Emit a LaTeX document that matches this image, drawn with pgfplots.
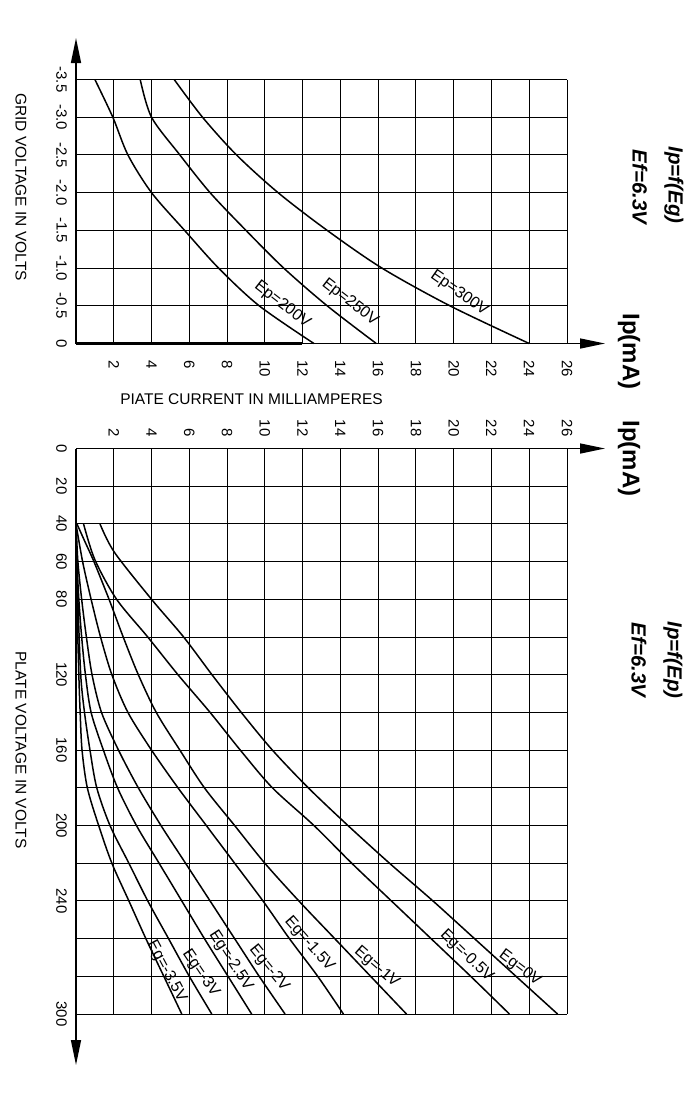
\documentclass[border=0pt]{standalone}
\usepackage{fontspec}
\setmainfont{Liberation Sans}
\usepackage{pgfplots}
\pgfplotsset{compat=1.18}
\usetikzlibrary{arrows.meta}
\begin{document}
\begin{tikzpicture}
\path[use as bounding box] (0,0) rectangle (350pt,-550pt);
\pgfplotsset{
  every axis/.append style={
    scale only axis, clip=false,
    axis line style={draw=none}, tick style={draw=none},
    major grid style={black, line width=0.5pt},
    minor grid style={black, line width=0.5pt},
    xmin=0, xmax=26,
    xtick={2,4,...,26},
    xticklabels={2,4,6,8,10,12,14,16,18,20,22,24,26},
  },
  curve/.style={black, line width=0.75pt, smooth, no marks},
}
% ---------------- Ip = f(Eg) ----------------
\begin{axis}[
  width=245.5pt, height=132pt,
  at={(38pt,-171.75pt)}, anchor=south west,
  ymin=-3.5, ymax=0, y dir=reverse,
  ytick={-3.5,-3,...,0},
  yticklabels={-3.5,-3.0,-2.5,-2.0,-1.5,-1.0,-0.5,0},
  grid=major,
  xticklabel pos=left,
  xticklabel style={rotate=-90, anchor=west, font=\fontsize{7.5}{8}\selectfont},
  xticklabel shift=4.8pt,
  yticklabel style={rotate=-90, anchor=north, font=\fontsize{7.5}{8}\selectfont},
  yticklabel shift=1.0pt,
]
\addplot[curve] coordinates {(1.0,-3.5) (1.95,-3.0) (2.75,-2.5) (4.0,-2.0) (5.75,-1.5) (7.55,-1.0) (9.7,-0.5) (12.6,0)};
\addplot[curve] coordinates {(3.4,-3.5) (4.0,-3.0) (5.5,-2.5) (7.1,-2.0) (9.0,-1.5) (11.0,-1.0) (13.3,-0.5) (15.9,0)};
\addplot[curve] coordinates {(5.2,-3.5) (6.7,-3.0) (8.5,-2.5) (10.7,-2.0) (13.3,-1.5) (16.2,-1.0) (19.8,-0.5) (24.0,0)};
\end{axis}
% ---------------- Ip = f(Ep) ----------------
\begin{axis}[
  width=245.5pt, height=282.75pt,
  at={(38pt,-224.25pt)}, anchor=north west,
  ymin=0, ymax=300, y dir=reverse,
  ytick={0,20,40,60,80,120,160,200,240,300},
  yticklabels={0,20,40,60,80,120,160,200,240,300},
  minor ytick={100,140,180,220,260,280},
  grid=both,
  xticklabel pos=right,
  xticklabel style={rotate=-90, anchor=east, font=\fontsize{7.5}{8}\selectfont},
  xticklabel shift=2.5pt,
  yticklabel style={rotate=-90, anchor=north, font=\fontsize{7.5}{8}\selectfont},
  yticklabel shift=1.0pt,
]
% Eg = 0 V
\addplot[curve] coordinates {(1.27,40) (2.03,55) (4.0,80) (5.7,100) (7.2,120) (8.75,140) (10.4,160) (12.3,180) (14.4,200) (16.6,220) (18.9,240) (21.1,260) (23.3,280) (25.5,300)};
% Eg = -0.5 V
\addplot[curve] coordinates {(0.4,40) (1.0,59) (2.15,80) (3.8,100) (5.4,120) (7.1,140) (8.7,160) (10.4,180) (12.6,200) (14.6,220) (16.7,240) (18.8,260) (20.9,280) (22.95,300)};
% Eg = -1 V
\addplot[curve] coordinates {(0.05,40) (0.5,50) (0.95,60) (1.75,80) (2.5,100) (3.3,120) (4.25,140) (5.5,160) (6.8,180) (8.4,200) (10.0,220) (11.8,240) (13.7,260) (15.6,280) (17.5,300)};
% Eg = -1.5 V
\addplot[curve] coordinates {(0,40) (0.35,60) (0.8,80) (1.3,100) (1.9,120) (2.75,140) (4.0,160) (5.4,180) (6.9,200) (8.4,220) (9.9,240) (11.3,260) (12.8,280) (14.16,300)};
% Eg = -2 V
\addplot[curve] coordinates {(0,40) (0.1,60) (0.3,80) (0.55,100) (0.85,120) (1.35,140) (2.25,160) (3.3,180) (4.5,200) (5.8,220) (7.1,240) (8.4,260) (9.7,280) (11.07,300)};
% Eg = -2.5 V
\addplot[curve] coordinates {(0,40) (0.05,60) (0.15,80) (0.3,100) (0.5,120) (0.8,140) (1.45,160) (2.2,180) (3.2,200) (4.4,220) (5.6,240) (6.8,260) (8.05,280) (9.3,300)};
% Eg = -3 V
\addplot[curve] coordinates {(0,40) (0.1,80) (0.25,120) (0.45,140) (0.74,160) (1.1,180) (1.8,200) (2.8,220) (3.8,240) (4.9,260) (6.0,280) (7.19,300)};
% Eg = -3.5 V
\addplot[curve] coordinates {(0,40) (0.05,80) (0.15,120) (0.22,140) (0.32,160) (0.6,180) (1.2,200) (1.9,220) (2.8,240) (3.7,260) (4.65,280) (5.6,300)};
\end{axis}
% ---------------- axes, arrows and text (pixel frame) ----------------
\begin{scope}[x=0.5pt, y=-0.5pt]
\tikzset{arr/.style={line width=0.75pt, -{Triangle[length=12.5pt, width=5pt]}}}
\draw[arr] (76,343.5) -- (76,38);
\draw[arr] (76,343.5) -- (605,343.5);
\draw[line width=1.3pt] (76,343.5) -- (302,343.5);
\draw[arr] (76,448.5) -- (605,448.5);
\draw[arr] (76,448.5) -- (76,1065);
\tikzset{lab/.style={font=\fontsize{7.75}{9}\selectfont, inner sep=0pt}}
\node[lab, rotate=-90] at (21,187) {GRID VOLTAGE IN VOLTS};
\node[lab, rotate=-90] at (21,750) {PLATE VOLTAGE IN VOLTS};
\node[lab] at (251.5,399) {PIATE CURRENT IN MILLIAMPERES};
\tikzset{ipl/.style={font=\fontsize{12}{14}\selectfont\bfseries, inner sep=0pt, rotate=-90}}
\node[ipl] at (629,351.5) {Ip(mA)};
\node[ipl] at (629,458.5) {Ip(mA)};
\tikzset{ttl/.style={font=\fontsize{10.25}{12}\selectfont\bfseries\itshape, inner sep=0pt, rotate=-90}}
\node[ttl] at (674,185) {Ip=f(Eg)};
\node[ttl] at (640,187) {Ef=6.3V};
\node[ttl] at (673,660) {Ip=f(Ep)};
\node[ttl] at (639,660) {Ef=6.3V};
\tikzset{cl/.style={font=\fontsize{8}{9}\selectfont, inner sep=0pt}}
\node[cl, rotate=-38] at (282.3,305) {Ep=200V};
\node[cl, rotate=-38] at (350,302.3) {Ep=250V};
\node[cl, rotate=-35] at (459.3,293.3) {Ep=300V};
\node[cl, rotate=-37] at (520,968.3) {Eg=0V};
\node[cl, rotate=-44] at (466.7,956) {Eg=-0.5V};
\node[cl, rotate=-41] at (376.7,967.3) {Eg=-1V};
\node[cl, rotate=-49] at (309.3,944) {Eg=-1.5V};
\node[cl, rotate=-51] at (269,968.3) {Eg=-2V};
\node[cl, rotate=-57] at (230.7,960.7) {Eg=-2.5V};
\node[cl, rotate=-56] at (200.7,973.3) {Eg=-3V};
\node[cl, rotate=-62] at (166.7,971.7) {Eg=-3.5V};
\end{scope}
\end{tikzpicture}
\end{document}
